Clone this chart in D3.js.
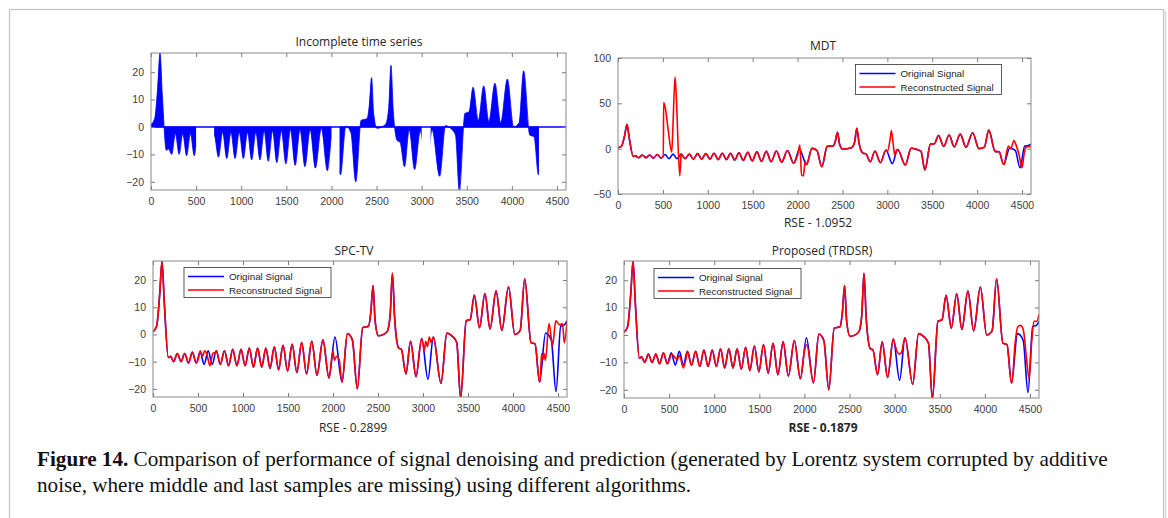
<!DOCTYPE html>
<html>
<head>
<meta charset="utf-8">
<script src="https://cdn.jsdelivr.net/npm/d3@7"></script>
<style>
  body { margin: 0; background: #fff; }
  svg { display: block; }
  .tick text { font-family: "Liberation Sans", Arial, sans-serif; font-size: 10.5px; fill: #404040; }
  .tick line { stroke: #7a7a7a; }
  .title { font-family: "Open Sans", sans-serif; font-size: 12px; fill: #262626; }
  .legend text { font-family: "Liberation Sans", Arial, sans-serif; font-size: 9.8px; fill: #262626; }
</style>
</head>
<body>
<svg id="fig" width="1168" height="518"></svg>
<script>
"use strict";

// original Lorenz signal as [sample, value] knots
var originalSignal = [
	[0, 1], [40, 3], [75, 15], [100, 27], [125, 12], [170, -8.5], [195, -8],
	[230, -10], [270, -7], [312, -10], [352, -7], [395, -10.5], [437, -6.5],
	[480, -10.5], [524, -6.5], [568, -11], [613, -6], [658, -11], [703, -6],
	[748, -11], [794, -6], [840, -11.5], [886, -5.5], [932, -11.5], [978, -5.5],
	[1024, -11.5], [1070, -5], [1116, -12], [1162, -5], [1208, -12], [1254, -5],
	[1300, -12.5], [1348, -4.5], [1395, -13], [1445, -4], [1495, -13.5],
	[1546, -3.5], [1598, -14], [1652, -3], [1706, -14.5], [1764, -2.5],
	[1822, -15], [1888, -2], [1955, -16], [2022, -1], [2100, -17.5], [2160, 0.3],
	[2215, -2], [2270, -20], [2330, 2.5], [2395, 3], [2420, 8], [2445, 18],
	[2468, 5], [2505, -0.5], [2600, 1], [2635, 7], [2660, 22.5], [2685, 6],
	[2730, -5], [2760, -5.5], [2810, -14.5], [2862, -2.5], [2922, -15.5],
	[2985, -1.5], [3055, -16.5], [3115, -1], [3200, -18], [3265, 0.5],
	[3320, -0.5], [3375, -3], [3418, -23.5], [3480, 5], [3525, 5.5],
	[3570, 14.5], [3628, 2.5], [3688, 15], [3745, 2], [3812, 16], [3876, 1.5],
	[3950, 17.5], [4020, 0], [4080, 1.5], [4130, 20.5], [4200, -3], [4245, -3.5],
	[4295, -17.5], [4362, 0.5], [4425, -2], [4478, -21], [4530, 3], [4570, 3.5],
	[4600, 5]
];

// sample ranges that are missing in the incomplete series
var missingRanges = [[500, 700], [2000, 2090], [3000, 3100], [4300, 4600]];

// noisy observed values where the incomplete plot differs from the clean signal
var observedPatches = [
	[[170, -8.5], [195, -8], [230, -10], [270, -2.5], [312, -10], [352, -2.5], [395, -10.5], [437, -2.5], [480, -10.5], [500, -7]],
	[[700, -3], [748, -11], [794, -2], [840, -11.5], [886, -2], [932, -11.5], [978, -2], [1024, -11.5], [1070, -2], [1116, -12],
	 [1162, -2], [1208, -12], [1254, -1.5], [1300, -12.5], [1348, -1.5], [1395, -13], [1445, -1.5], [1495, -13.5], [1546, -1],
	 [1598, -14], [1652, -1], [1706, -14.5], [1764, -1], [1822, -15], [1888, -0.5], [1955, -16], [2000, -4]],
	[[2810, -14.5], [2862, -1], [2922, -15.5]]
];

// reconstructions inside the missing ranges
var mdtPatches = [
	[[500, -9], [505, -9], [508, 51], [525, 46], [560, 20], [598, -4], [612, 25], [635, 79], [648, 60], [688, -30], [700, -10]],
	[[2000, -7], [2025, 4], [2045, -29], [2065, -30], [2085, -14], [2100, -17.5]],
	[[3000, -3], [3030, 10], [3045, 20], [3065, 5], [3085, -8], [3100, -2]],
	[[4300, -17.5], [4330, -3], [4350, 3], [4375, 0], [4410, 9], [4430, 5], [4470, -8], [4500, -21], [4525, -5], [4545, 2], [4600, 2.5]]
];
var spcPatches = [
	[[500, -9.5], [525, -6], [550, -8], [575, -6], [600, -7.5], [632, -11.5], [665, -7], [700, -6.5]],
	[[2000, -6], [2015, -9.5], [2040, -8], [2070, -9.5], [2100, -17.5]],
	[[3000, -3.5], [3015, -6], [3030, -2.5], [3050, -4.5], [3070, -1], [3090, -3], [3100, -2]],
	[[4300, -17.5], [4318, -7], [4330, -9.5], [4345, -7], [4360, -9.5], [4400, 4], [4440, -4], [4475, 5], [4520, 3.5], [4550, 4], [4570, -3], [4600, 4.5]]
];
var trdsrPatches = [
	[[500, -9.5], [526, -7], [560, -8], [590, -9], [615, -7.5], [658, -12], [700, -6.5]],
	[[2000, -6], [2025, -3.5], [2100, -17.5]],
	[[3000, -3], [3025, -6], [3055, -7], [3080, -6], [3100, -2.5]],
	[[4300, -17.5], [4335, -3], [4365, 3], [4395, 3.5], [4425, 2], [4460, -8], [4490, -16], [4520, -2], [4545, 5], [4575, 5], [4600, 7.5]]
];

var xTicks = [0, 500, 1000, 1500, 2000, 2500, 3000, 3500, 4000, 4500];
var yTicksSignal = [-20, -10, 0, 10, 20];
var yTicksMdt = [-50, 0, 50, 100];
var legendLabels = ["Original Signal", "Reconstructed Signal"];
var captionBold = "Figure 14.";
var captionLines = [
	" Comparison of performance of signal denoising and prediction (generated by Lorentz system corrupted by additive",
	"noise, where middle and last samples are missing) using different algorithms."
];

var BLUE = "#0000ff", RED = "#ff0000";

var svg = d3.select("#fig");
svg.append("rect").attr("width", 1168).attr("height", 518).attr("fill", "#fff");
// page frame
svg.append("rect")
	.attr("x", 9.5).attr("y", 9.5).attr("width", 1154).attr("height", 530)
	.attr("fill", "none").attr("stroke", "#c4c4c4").attr("stroke-width", 1.2);
svg.append("line")
	.attr("x1", 1165.5).attr("x2", 1165.5).attr("y1", 11).attr("y2", 518)
	.attr("stroke", "#dedede").attr("stroke-width", 2);

function withPatches(patches)
{
	var pts = originalSignal.filter(function(p) {
		return !patches.some(function(pa) {
			return p[0] >= pa[0][0] && p[0] <= pa[pa.length - 1][0];
		});
	});
	patches.forEach(function(pa) { pts = pts.concat(pa); });
	return pts.sort(function(a, b) { return a[0] - b[0]; });
}

function makePanel(opt)
{
	var w = opt.right - opt.left, h = opt.bottom - opt.top;
	var g = svg.append("g").attr("transform", "translate(" + opt.left + "," + opt.top + ")");
	var x = d3.scaleLinear().domain([0, 4600]).range([0, w]);
	var y = d3.scaleLinear().domain(opt.yDomain).range([h, 0]);
	var fmt = d3.format("d");

	g.append("clipPath").attr("id", opt.id + "-clip")
		.append("rect").attr("width", w).attr("height", h);

	var plot = g.append("g").attr("clip-path", "url(#" + opt.id + "-clip)");

	// ticks on all four sides, pointing inwards
	g.append("g").attr("transform", "translate(0," + h + ")")
		.call(d3.axisBottom(x).tickValues(xTicks).tickFormat(fmt).tickSizeInner(-4).tickSizeOuter(0).tickPadding(8));
	g.append("g")
		.call(d3.axisTop(x).tickValues(xTicks).tickSizeInner(-4).tickSizeOuter(0).tickFormat(""));
	g.append("g")
		.call(d3.axisLeft(y).tickValues(opt.yTicks).tickFormat(fmt).tickSizeInner(-4).tickSizeOuter(0).tickPadding(7));
	g.append("g").attr("transform", "translate(" + w + ",0)")
		.call(d3.axisRight(y).tickValues(opt.yTicks).tickSizeInner(-4).tickSizeOuter(0).tickFormat(""));
	g.selectAll(".domain").remove();

	g.append("rect").attr("width", w).attr("height", h)
		.attr("fill", "none").attr("stroke", "#8a8a8a").attr("stroke-width", 1);

	svg.append("text").attr("class", "title")
		.attr("x", opt.titleX).attr("y", opt.titleY)
		.attr("text-anchor", "middle").attr("dominant-baseline", "central")
		.text(opt.title);

	if (opt.xlabel) {
		svg.append("text").attr("class", "title")
			.attr("x", opt.xlabelX).attr("y", opt.xlabelY)
			.attr("text-anchor", "middle").attr("dominant-baseline", "central")
			.style("font-weight", opt.xlabelBold ? "bold" : "normal")
			.text(opt.xlabel);
	}
	return {g: g, plot: plot, x: x, y: y, w: w, h: h};
}

function drawLine(p, data, color)
{
	var line = d3.line()
		.x(function(d) { return p.x(d[0]); })
		.y(function(d) { return p.y(d[1]); })
		.curve(d3.curveMonotoneX);
	p.plot.append("path").datum(data)
		.attr("d", line).attr("fill", "none")
		.attr("stroke", color).attr("stroke-width", 1.6);
}

function drawLegend(p, lx, ly, bw)
{
	var lg = p.g.append("g").attr("class", "legend").attr("transform", "translate(" + lx + "," + ly + ")");
	lg.append("rect").attr("width", bw).attr("height", 30)
		.attr("fill", "#fff").attr("stroke", "#333").attr("stroke-width", 0.8);
	[BLUE, RED].forEach(function(c, i) {
		var yy = 9 + i * 13.5;
		lg.append("line").attr("x1", 4).attr("x2", 40).attr("y1", yy).attr("y2", yy)
			.attr("stroke", c).attr("stroke-width", 1.5);
		lg.append("text").attr("x", 45).attr("y", yy).attr("dominant-baseline", "central")
			.text(legendLabels[i]);
	});
}

// panel 1: incomplete series as filled area
var p1 = makePanel({id: "p1", left: 151, right: 566, top: 53, bottom: 190,
	yDomain: [-23, 27], yTicks: yTicksSignal,
	title: "Incomplete time series", titleX: 359, titleY: 41.5});

var present = [];
var start = 0;
missingRanges.forEach(function(r) { present.push([start, r[0]]); start = r[1]; });
if (start < 4600) present.push([start, 4600]);

var gapClip = p1.g.append("clipPath").attr("id", "p1-gaps");
gapClip.selectAll("rect").data(present).enter().append("rect")
	.attr("x", function(d) { return p1.x(d[0]); })
	.attr("width", function(d) { return p1.x(d[1]) - p1.x(d[0]); })
	.attr("height", p1.h);

var area = d3.area()
	.x(function(d) { return p1.x(d[0]); })
	.y0(p1.y(0))
	.y1(function(d) { return p1.y(d[1]); })
	.curve(d3.curveMonotoneX);
p1.plot.append("path").datum(withPatches(observedPatches))
	.attr("clip-path", "url(#p1-gaps)")
	.attr("d", area).attr("fill", BLUE).attr("stroke", BLUE).attr("stroke-width", 0.8);
p1.plot.append("line")
	.attr("x1", 0).attr("x2", p1.w).attr("y1", p1.y(0)).attr("y2", p1.y(0))
	.attr("stroke", BLUE).attr("stroke-width", 1.5);

// panel 2: MDT
var p2 = makePanel({id: "p2", left: 618, right: 1031, top: 58, bottom: 194,
	yDomain: [-50, 100], yTicks: yTicksMdt,
	title: "MDT", titleX: 823, titleY: 45,
	xlabel: "RSE - 1.0952", xlabelX: 818, xlabelY: 222.5});
drawLine(p2, originalSignal, BLUE);
drawLine(p2, withPatches(mdtPatches), RED);
drawLegend(p2, 855.5 - 618, 64.5 - 58, 146);

// panel 3: SPC-TV
var p3 = makePanel({id: "p3", left: 153, right: 567, top: 261, bottom: 397,
	yDomain: [-23, 27], yTicks: yTicksSignal,
	title: "SPC-TV", titleX: 354, titleY: 250,
	xlabel: "RSE - 0.2899", xlabelX: 353, xlabelY: 427.5});
drawLine(p3, originalSignal, BLUE);
drawLine(p3, withPatches(spcPatches), RED);
drawLegend(p3, 184 - 153, 267.5 - 261, 147);

// panel 4: proposed method
var p4 = makePanel({id: "p4", left: 624, right: 1039, top: 261, bottom: 398,
	yDomain: [-23, 27], yTicks: yTicksSignal,
	title: "Proposed (TRDSR)", titleX: 822, titleY: 250,
	xlabel: "RSE - 0.1879", xlabelX: 823, xlabelY: 427.5, xlabelBold: true});
drawLine(p4, originalSignal, BLUE);
drawLine(p4, withPatches(trdsrPatches), RED);
drawLegend(p4, 654 - 624, 268.5 - 261, 147);

// caption, sized so the first line spans the same width as in the figure
var cap = svg.append("g").style("font-family", '"Liberation Serif", "DejaVu Serif", serif').style("fill", "#111");
var l1 = cap.append("text").attr("x", 37).attr("y", 466).style("font-size", "18px");
l1.append("tspan").style("font-weight", "bold").text(captionBold);
l1.append("tspan").text(captionLines[0]);
var l2 = cap.append("text").attr("x", 37).attr("y", 491.5).style("font-size", "18px").text(captionLines[1]);
var len = l1.node().getComputedTextLength();
var fs = 18 * 1071 / len;
l1.style("font-size", fs + "px");
l2.style("font-size", fs + "px");
</script>
</body>
</html>
